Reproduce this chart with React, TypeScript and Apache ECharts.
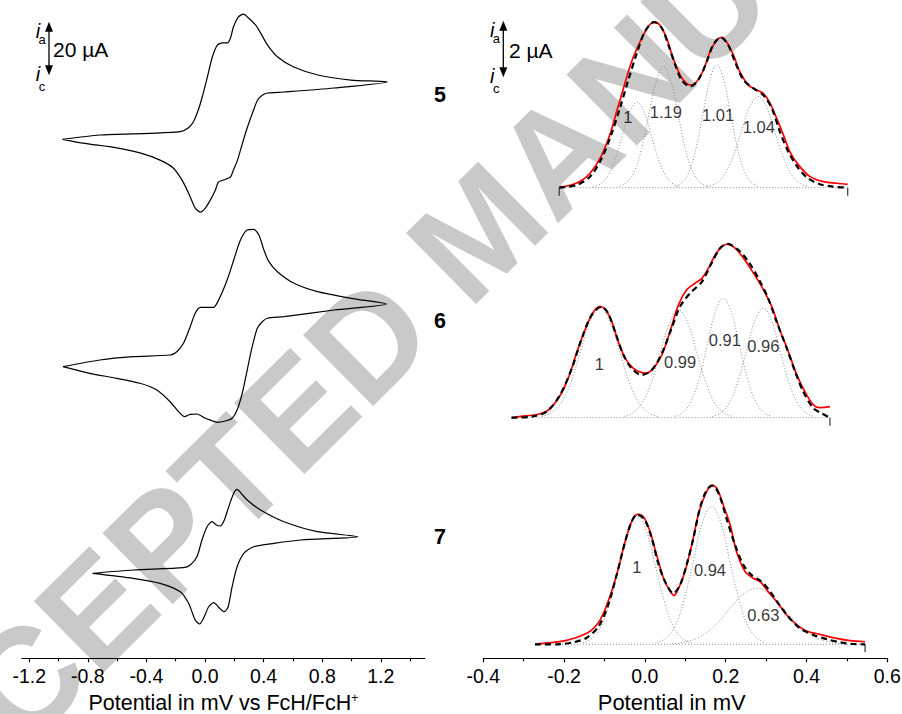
import React, { useEffect, useRef } from "react";
import * as echarts from "echarts";

const FONT = '"Liberation Sans", Arial, Helvetica, sans-serif';

// ---------- Cyclic voltammograms: [potential (V), current (µA)] ----------
const cv5: number[][] = [
  [-0.974, -11.06], [-0.718, -9.43], [-0.375, -8.79], [-0.169, -8.19], [-0.115, -6.79], [-0.08, -4.53],
  [-0.046, 0], [-0.019, 4.91], [0.016, 12.45], [0.05, 20.0], [0.084, 24.5], [0.119, 25.3], [0.153, 25.3],
  [0.174, 27.2], [0.194, 31.3], [0.228, 35.1], [0.263, 36.2], [0.297, 34.7], [0.345, 32.1], [0.379, 29.1],
  [0.427, 24.5], [0.496, 20.0], [0.606, 16.2], [0.77, 13.2], [0.996, 11.3], [1.243, 10.6],
  [0.88, 8.3], [0.537, 6.79], [0.427, 6.42], [0.393, 5.66], [0.359, 3.77], [0.324, -1.13], [0.29, -6.42],
  [0.256, -12.45], [0.222, -18.9], [0.194, -22.6], [0.174, -25.3], [0.126, -26.4], [0.091, -27.2],
  [0.071, -30.2], [0.036, -34.0], [0.002, -37.0], [-0.032, -38.5], [-0.067, -37.0], [-0.101, -32.8],
  [-0.149, -27.2], [-0.217, -21.9], [-0.307, -18.9], [-0.444, -16.2], [-0.602, -14.3], [-0.835, -12.5],
  [-0.974, -11.06],
];
const cv6: number[][] = [
  [-0.97, -15.36], [-0.718, -12.83], [-0.49, -11.59], [-0.238, -10.94], [-0.192, -9.7], [-0.147, -6.53],
  [-0.101, -0.26], [-0.067, 4.79], [-0.032, 7.06], [0.025, 7.06], [0.059, 7.06], [0.093, 9.81],
  [0.151, 17.36], [0.196, 24.91], [0.242, 32.46], [0.288, 36.23], [0.333, 36.49], [0.368, 34.34],
  [0.402, 28.68], [0.436, 24.27], [0.494, 20.49], [0.608, 16.11], [0.768, 12.95], [0.997, 10.45], [1.237, 8.3],
  [0.882, 6.04], [0.539, 3.51], [0.425, 2.91], [0.391, 1.62], [0.357, -0.87], [0.322, -7.81], [0.288, -16.61],
  [0.254, -25.4], [0.219, -31.7], [0.185, -34.83], [0.139, -35.85], [0.082, -36.34], [0.048, -35.74],
  [0.002, -34.83], [-0.055, -33.21], [-0.101, -33.32], [-0.14, -34.23], [-0.181, -32.34], [-0.238, -28.57],
  [-0.329, -24.15], [-0.444, -21.62], [-0.604, -19.74], [-0.787, -17.85], [-0.97, -15.36],
];
const cv7: number[][] = [
  [-0.768, -6.53], [-0.49, -5.28], [-0.147, -4.42], [-0.101, -3.4], [-0.055, -0.26], [-0.021, 6.04],
  [0.014, 11.06], [0.048, 12.94], [0.078, 11.7], [0.105, 11.32], [0.132, 13.59], [0.162, 18.61],
  [0.196, 23.66], [0.219, 25.17], [0.247, 23.66], [0.288, 21.13], [0.379, 17.36], [0.539, 12.94],
  [0.768, 9.17], [1.043, 7.28],
  [0.654, 6.04], [0.471, 4.79], [0.333, 3.51], [0.265, 1.02], [0.219, -4.04], [0.185, -11.59],
  [0.158, -19.13], [0.132, -21.02], [0.1, -19.74], [0.059, -17.62], [0.025, -19.13], [-0.01, -23.51],
  [-0.037, -25.66], [-0.067, -24.15], [-0.112, -17.85], [-0.169, -13.47], [-0.307, -10.3], [-0.49, -8.42],
  [-0.768, -6.53],
];

const leftMajorTicks = [-1.2, -0.8, -0.4, 0, 0.4, 0.8, 1.2];
const leftMinorTicks = [-1.0, -0.6, -0.2, 0.2, 0.6, 1.0, 1.4];
const compoundNames = ["5", "6", "7"];

// ---------- Deconvoluted DPV: [potential (V), current (µA)] ----------
const dpv5Exp: number[][] = [
  [-0.212, 0.014], [-0.177, 0.119], [-0.144, 0.386], [-0.111, 1.03], [-0.087, 1.85], [-0.07, 2.67],
  [-0.053, 3.49], [-0.033, 4.42], [-0.012, 5.12], [0.008, 5.65], [0.023, 5.81], [0.037, 5.71],
  [0.054, 5.24], [0.07, 4.54], [0.087, 3.96], [0.103, 3.66], [0.116, 3.6], [0.128, 3.72], [0.145, 4.13],
  [0.161, 4.77], [0.178, 5.18], [0.19, 5.28], [0.202, 5.12], [0.219, 4.66], [0.235, 4.07], [0.256, 3.6],
  [0.277, 3.43], [0.293, 3.31], [0.31, 2.96], [0.326, 2.44], [0.343, 1.85], [0.359, 1.26], [0.38, 0.8],
  [0.409, 0.386], [0.442, 0.21], [0.475, 0.154], [0.502, 0.119],
];
const dpv5Fit: number[][] = [
  [-0.212, 0], [-0.169, 0.095], [-0.136, 0.386], [-0.107, 1.03], [-0.082, 1.91], [-0.062, 2.79],
  [-0.041, 3.78], [-0.02, 4.72], [0.0, 5.48], [0.023, 5.81], [0.042, 5.6], [0.058, 5.01], [0.075, 4.31],
  [0.091, 3.78], [0.112, 3.55], [0.132, 3.78], [0.153, 4.42], [0.169, 5.01], [0.188, 5.28], [0.206, 5.01],
  [0.223, 4.42], [0.244, 3.78], [0.268, 3.49], [0.293, 3.25], [0.314, 2.79], [0.334, 1.97], [0.355, 1.26],
  [0.38, 0.68], [0.404, 0.33], [0.433, 0.12], [0.466, 0.035], [0.502, 0],
];
const dpv5Peaks: number[][][] = [
  [[-0.128, 0.03], [-0.11, 0.13], [-0.092, 0.41], [-0.074, 0.98], [-0.056, 1.82], [-0.038, 2.65], [-0.02, 3.0],
   [-0.002, 2.65], [0.016, 1.82], [0.034, 0.98], [0.052, 0.41], [0.07, 0.13], [0.088, 0.03]],
  [[-0.062, 0.05], [-0.044, 0.19], [-0.026, 0.57], [-0.008, 1.38], [0.01, 2.58], [0.028, 3.75], [0.046, 4.25],
   [0.064, 3.75], [0.082, 2.58], [0.1, 1.38], [0.118, 0.57], [0.136, 0.19], [0.154, 0.05]],
  [[0.076, 0.05], [0.093, 0.19], [0.11, 0.58], [0.127, 1.4], [0.144, 2.61], [0.161, 3.79], [0.178, 4.3],
   [0.195, 3.79], [0.212, 2.61], [0.229, 1.4], [0.246, 0.58], [0.263, 0.19], [0.28, 0.05]],
  [[0.154, 0.04], [0.175, 0.14], [0.196, 0.43], [0.217, 1.04], [0.238, 1.94], [0.259, 2.82], [0.28, 3.2],
   [0.301, 2.82], [0.322, 1.94], [0.343, 1.04], [0.364, 0.43], [0.385, 0.14], [0.406, 0.04]],
];
const dpv5Ratios: (number | string)[][] = [
  [-0.042, 2.48, "1"], [0.052, 2.66, "1.19"], [0.181, 2.55, "1.01"], [0.282, 2.13, "1.04"],
];
const dpv5EndMarks = [-0.212, 0.502];

const dpv6Exp: number[][] = [
  [-0.33, 0], [-0.297, 0.06], [-0.264, 0.119], [-0.239, 0.27], [-0.214, 0.68], [-0.19, 1.38], [-0.165, 2.44],
  [-0.14, 3.37], [-0.124, 3.78], [-0.111, 3.9], [-0.099, 3.82], [-0.082, 3.37], [-0.066, 2.67], [-0.049, 2.09],
  [-0.029, 1.74], [-0.012, 1.6], [0.004, 1.56], [0.021, 1.74], [0.042, 2.2], [0.062, 3.02], [0.083, 3.96],
  [0.103, 4.48], [0.124, 4.72], [0.141, 4.89], [0.157, 5.24], [0.174, 5.71], [0.19, 6.0], [0.205, 6.09],
  [0.223, 5.95], [0.244, 5.6], [0.264, 5.18], [0.289, 4.6], [0.314, 3.9], [0.334, 3.08], [0.355, 2.32],
  [0.376, 1.5], [0.396, 0.91], [0.417, 0.45], [0.433, 0.35], [0.458, 0.39],
];
const dpv6Fit: number[][] = [
  [-0.33, 0], [-0.28, 0.035], [-0.243, 0.21], [-0.21, 0.8], [-0.181, 1.73], [-0.156, 2.79], [-0.132, 3.6],
  [-0.107, 3.9], [-0.091, 3.66], [-0.074, 3.02], [-0.053, 2.2], [-0.033, 1.73], [-0.008, 1.5], [0.017, 1.67],
  [0.042, 2.26], [0.066, 3.14], [0.087, 3.9], [0.112, 4.37], [0.141, 4.77], [0.165, 5.42], [0.186, 5.95],
  [0.205, 6.1], [0.231, 5.89], [0.256, 5.48], [0.281, 4.89], [0.305, 4.19], [0.326, 3.37], [0.351, 2.44],
  [0.372, 1.61], [0.392, 0.91], [0.417, 0.33], [0.438, 0.15], [0.458, 0],
];
const dpv6Peaks: number[][][] = [
  [[-0.255, 0.04], [-0.231, 0.17], [-0.207, 0.52], [-0.183, 1.25], [-0.159, 2.34], [-0.135, 3.4], [-0.111, 3.85],
   [-0.087, 3.4], [-0.063, 2.34], [-0.039, 1.25], [-0.015, 0.52], [0.009, 0.17], [0.033, 0.04]],
  [[-0.052, 0.04], [-0.03, 0.17], [-0.007, 0.51], [0.016, 1.23], [0.038, 2.29], [0.061, 3.33], [0.083, 3.78],
   [0.106, 3.33], [0.128, 2.29], [0.151, 1.23], [0.173, 0.51], [0.196, 0.17], [0.218, 0.04]],
  [[0.074, 0.05], [0.094, 0.18], [0.114, 0.57], [0.134, 1.36], [0.154, 2.54], [0.174, 3.7], [0.194, 4.19],
   [0.214, 3.7], [0.234, 2.54], [0.254, 1.36], [0.274, 0.57], [0.294, 0.18], [0.314, 0.05]],
  [[0.167, 0.04], [0.188, 0.17], [0.209, 0.52], [0.23, 1.25], [0.251, 2.33], [0.272, 3.39], [0.293, 3.84],
   [0.314, 3.39], [0.335, 2.33], [0.356, 1.25], [0.377, 0.52], [0.398, 0.17], [0.419, 0.04]],
];
const dpv6Ratios: (number | string)[][] = [
  [-0.113, 1.87, "1"], [0.087, 1.97, "0.99"], [0.198, 2.73, "0.91"], [0.293, 2.52, "0.96"],
];
const dpv6EndMarks = [0.458];

const dpv7Exp: number[][] = [
  [-0.272, 0], [-0.235, 0.056], [-0.194, 0.14], [-0.161, 0.28], [-0.132, 0.5], [-0.111, 0.85], [-0.091, 1.5],
  [-0.07, 2.43], [-0.049, 3.6], [-0.033, 4.3], [-0.019, 4.56], [-0.004, 4.48], [0.013, 3.95], [0.029, 3.13],
  [0.046, 2.32], [0.058, 1.97], [0.072, 1.71], [0.085, 2.02], [0.099, 2.55], [0.116, 3.49], [0.132, 4.54],
  [0.149, 5.24], [0.165, 5.59], [0.178, 5.48], [0.194, 4.89], [0.211, 4.19], [0.227, 3.25], [0.248, 2.55],
  [0.268, 2.32], [0.285, 2.2], [0.305, 1.85], [0.326, 1.5], [0.351, 1.03], [0.376, 0.68], [0.4, 0.47],
  [0.433, 0.35], [0.475, 0.21], [0.508, 0.13], [0.545, 0.09],
];
const dpv7Fit: number[][] = [
  [-0.272, 0], [-0.218, 0], [-0.177, 0.07], [-0.144, 0.23], [-0.115, 0.62], [-0.091, 1.38], [-0.07, 2.43],
  [-0.049, 3.6], [-0.033, 4.3], [-0.019, 4.56], [0.0, 4.36], [0.017, 3.72], [0.033, 2.84], [0.05, 2.2],
  [0.07, 1.79], [0.087, 2.08], [0.103, 2.78], [0.12, 3.72], [0.136, 4.77], [0.153, 5.42], [0.168, 5.57],
  [0.184, 5.24], [0.202, 4.42], [0.223, 3.49], [0.244, 2.78], [0.264, 2.43], [0.289, 2.2], [0.31, 1.85],
  [0.33, 1.44], [0.355, 0.97], [0.384, 0.56], [0.417, 0.33], [0.45, 0.18], [0.483, 0.07], [0.516, 0.01],
  [0.545, 0],
];
const dpv7Peaks: number[][][] = [
  [[-0.154, 0.05], [-0.132, 0.2], [-0.109, 0.61], [-0.087, 1.46], [-0.064, 2.73], [-0.042, 3.97], [-0.019, 4.5],
   [0.004, 3.97], [0.026, 2.73], [0.049, 1.46], [0.071, 0.61], [0.094, 0.2], [0.116, 0.05]],
  [[0.03, 0.05], [0.052, 0.21], [0.075, 0.65], [0.097, 1.57], [0.12, 2.93], [0.142, 4.26], [0.165, 4.83],
   [0.188, 4.26], [0.21, 2.93], [0.233, 1.57], [0.255, 0.65], [0.278, 0.21], [0.3, 0.05]],
  [[0.067, 0.02], [0.102, 0.09], [0.137, 0.27], [0.172, 0.64], [0.207, 1.2], [0.242, 1.74], [0.277, 1.97],
   [0.312, 1.74], [0.347, 1.2], [0.382, 0.64], [0.417, 0.27], [0.452, 0.09], [0.487, 0.02]],
];
const dpv7Ratios: (number | string)[][] = [
  [-0.02, 2.72, "1"], [0.161, 2.61, "0.94"], [0.293, 1.03, "0.63"],
];
const dpv7EndMarks = [0.545];

const rightTicks = { min: -0.4, max: 0.6, interval: 0.2 };

// ---------- layout (pixels) ----------
const LEFT_X = { left: 21.9, width: 402.85 };
const RIGHT_X = { left: 483.3, width: 404 };
const cvGrids = [
  { top: 4, height: 212, min: -40, max: 40 },
  { top: 220, height: 212, min: -40, max: 40 },
  { top: 450, height: 208.3, min: -38.6, max: 40 },
];
const dpvGrids = [
  { top: 2.5, height: 199.4, min: -0.5, max: 6.5 },
  { top: 232.5, height: 199.4, min: -0.5, max: 6.5 },
  { top: 459.1, height: 199.2, min: -0.491, max: 6.5 },
];

function buildOption() {
  const grid: any[] = [];
  const xAxis: any[] = [];
  const yAxis: any[] = [];
  const series: any[] = [];

  const hiddenX = (gi: number, min: number, max: number) => ({
    gridIndex: gi, type: "value", min, max, show: false,
  });

  cvGrids.forEach((g) => {
    grid.push({ left: LEFT_X.left, width: LEFT_X.width, top: g.top, height: g.height, outerBoundsMode: "none" });
  });
  dpvGrids.forEach((g) => {
    grid.push({ left: RIGHT_X.left, width: RIGHT_X.width, top: g.top, height: g.height, outerBoundsMode: "none" });
  });

  const axisColor = "#000";
  xAxis.push(hiddenX(0, -1.25, 1.5));
  xAxis.push(hiddenX(1, -1.25, 1.5));
  xAxis.push({
    gridIndex: 2, type: "value", min: -1.25, max: 1.5, position: "bottom",
    axisLine: { show: true, onZero: false, lineStyle: { color: axisColor, width: 1.2 } },
    axisTick: { show: true, length: 4, customValues: leftMajorTicks, lineStyle: { color: axisColor, width: 1.2 } },
    axisLabel: {
      customValues: leftMajorTicks, formatter: (v: number) => v.toFixed(1), fontSize: 19.5,
      color: "#000", fontFamily: FONT, margin: 8,
    },
    splitLine: { show: false },
    name: "Potential in mV vs FcH/FcH{sup|+}",
    nameLocation: "middle", nameGap: 34,
    nameTextStyle: {
      fontSize: 21.5, color: "#000", fontFamily: FONT,
      rich: { sup: { fontSize: 12, color: "#000", fontFamily: FONT, verticalAlign: "top", lineHeight: 12 } },
    },
  });
  xAxis.push({
    gridIndex: 2, type: "value", min: -1.25, max: 1.5, position: "bottom",
    axisLine: { show: false, onZero: false },
    axisTick: { show: true, length: 3, customValues: leftMinorTicks, lineStyle: { color: axisColor, width: 1.2 } },
    axisLabel: { show: false },
    splitLine: { show: false },
  });
  xAxis.push(hiddenX(3, rightTicks.min, rightTicks.max));
  xAxis.push(hiddenX(4, rightTicks.min, rightTicks.max));
  xAxis.push({
    gridIndex: 5, type: "value", min: rightTicks.min, max: rightTicks.max, interval: rightTicks.interval,
    position: "bottom",
    axisLine: { show: true, onZero: false, lineStyle: { color: axisColor, width: 1.2 } },
    axisTick: { show: true, length: 4, lineStyle: { color: axisColor, width: 1.2 } },
    minorTick: { show: true, splitNumber: 2, length: 3, lineStyle: { color: axisColor, width: 1.2 } },
    axisLabel: { formatter: (v: number) => v.toFixed(1), fontSize: 19.5, color: "#000", fontFamily: FONT, margin: 8 },
    splitLine: { show: false },
    minorSplitLine: { show: false },
  });

  cvGrids.forEach((g, i) => yAxis.push({ gridIndex: i, type: "value", min: g.min, max: g.max, show: false }));
  dpvGrids.forEach((g, i) => yAxis.push({ gridIndex: 3 + i, type: "value", min: g.min, max: g.max, show: false }));

  [cv5, cv6, cv7].forEach((d, i) => {
    series.push({
      type: "line", xAxisIndex: i, yAxisIndex: i, data: d, smooth: 0.25, showSymbol: false, silent: true,
      lineStyle: { color: "#000", width: 1.2 }, z: 3,
    });
  });

  const panels = [
    { exp: dpv5Exp, fit: dpv5Fit, peaks: dpv5Peaks, ratios: dpv5Ratios, ends: dpv5EndMarks },
    { exp: dpv6Exp, fit: dpv6Fit, peaks: dpv6Peaks, ratios: dpv6Ratios, ends: dpv6EndMarks },
    { exp: dpv7Exp, fit: dpv7Fit, peaks: dpv7Peaks, ratios: dpv7Ratios, ends: dpv7EndMarks },
  ];
  const xIdx = [4, 5, 6];
  panels.forEach((p, i) => {
    const xa = xIdx[i];
    const ya = 3 + i;
    p.peaks.forEach((pk) => {
      series.push({
        type: "line", xAxisIndex: xa, yAxisIndex: ya, data: pk, smooth: 0.4, showSymbol: false, silent: true,
        lineStyle: { color: "#8a8a8a", width: 1, type: [1, 2] }, z: 2,
      });
    });
    series.push({
      type: "line", xAxisIndex: xa, yAxisIndex: ya, silent: true, showSymbol: false,
      data: [[p.exp[0][0], 0], [p.exp[p.exp.length - 1][0], 0]],
      lineStyle: { color: "#8a8a8a", width: 1, type: [1, 2] }, z: 2,
    });
    p.ends.forEach((ex) => {
      series.push({
        type: "line", xAxisIndex: xa, yAxisIndex: ya, silent: true, showSymbol: false,
        data: [[ex, 0], [ex, -0.28]],
        lineStyle: { color: "#333", width: 1.2 }, z: 2,
      });
    });
    series.push({
      type: "line", xAxisIndex: xa, yAxisIndex: ya, data: p.exp, smooth: 0.3, showSymbol: false, silent: true,
      lineStyle: { color: "#ff0000", width: 1.7 }, z: 3,
    });
    series.push({
      type: "line", xAxisIndex: xa, yAxisIndex: ya, data: p.fit, smooth: 0.3, showSymbol: false, silent: true,
      lineStyle: { color: "#000", width: 2.2, type: [6, 4] }, z: 4,
    });
    series.push({
      type: "scatter", xAxisIndex: xa, yAxisIndex: ya, symbolSize: 0, silent: true, z: 6,
      itemStyle: { color: "transparent" },
      data: p.ratios.map((r) => ({ value: [r[0], r[1]], name: String(r[2]) })),
      label: {
        show: true, position: "inside", formatter: "{b}", fontSize: 16.5, color: "#000", fontFamily: FONT,
        textBorderWidth: 0, textShadowBlur: 0,
      },
    });
  });

  const graphic: any[] = [];
  graphic.push({
    type: "text", x: 480, y: 230, rotation: 0.78, z: -10, silent: true,
    style: {
      text: "ACCEPTED MANUSCRIPT", font: `bold 145px ${FONT}`, fill: "#c9c9c9",
      align: "center", verticalAlign: "middle", textAlign: "center", textVerticalAlign: "middle",
    },
  });
  const labelY = [95.3, 320.8, 537];
  compoundNames.forEach((n, i) => {
    graphic.push({
      type: "text", x: 440, y: labelY[i], z: 10,
      style: {
        text: n, font: `bold 21.5px ${FONT}`, fill: "#000",
        align: "center", verticalAlign: "middle", textAlign: "center", textVerticalAlign: "middle",
      },
    });
  });
  graphic.push({
    type: "text", x: 671.7, y: 702.5, z: 10,
    style: {
      text: "Potential in mV", font: `22px ${FONT}`, fill: "#000",
      align: "center", verticalAlign: "middle", textAlign: "center", textVerticalAlign: "middle",
    },
  });
  const scaleBar = (cx: number, y1: number, y2: number, label: string, tx: number) => {
    const hw = 4;
    const hh = 10;
    graphic.push({ type: "line", z: 10, shape: { x1: cx, y1: y1 + hh - 1, x2: cx, y2: y2 - hh + 1 }, style: { stroke: "#000", lineWidth: 1.3 } });
    graphic.push({ type: "polygon", z: 10, shape: { points: [[cx, y1], [cx - hw, y1 + hh], [cx + hw, y1 + hh]] }, style: { fill: "#000" } });
    graphic.push({ type: "polygon", z: 10, shape: { points: [[cx, y2], [cx - hw, y2 - hh], [cx + hw, y2 - hh]] }, style: { fill: "#000" } });
    const t = (text: string, x: number, y: number, font: string) =>
      graphic.push({
        type: "text", x, y, z: 10,
        style: { text, font, fill: "#000", align: "center", verticalAlign: "middle", textAlign: "center", textVerticalAlign: "middle" },
      });
    t("i", cx - 11, y1 + 9, `italic 20px ${FONT}`);
    t("a", cx - 7, y1 + 18, `13px ${FONT}`);
    t("i", cx - 11, y2 - 1, `italic 20px ${FONT}`);
    t("c", cx - 7, y2 + 11, `13px ${FONT}`);
    graphic.push({
      type: "text", x: tx, y: (y1 + y2) / 2 + 1, z: 10,
      style: { text: label, font: `21px ${FONT}`, fill: "#000", align: "left", verticalAlign: "middle", textAlign: "left", textVerticalAlign: "middle" },
    });
  };
  scaleBar(49, 21.7, 75.3, "20 µA", 53);
  scaleBar(503.3, 20.7, 77.3, "2 µA", 509);

  return {
    animation: false,
    backgroundColor: "#fff",
    textStyle: { fontFamily: FONT },
    grid, xAxis, yAxis, series, graphic,
  };
}

export default function App() {
  const ref = useRef<HTMLDivElement>(null);
  useEffect(() => {
    if (!ref.current) return;
    const chart = echarts.init(ref.current, undefined, { renderer: "svg" });
    chart.setOption(buildOption() as any);
    return () => chart.dispose();
  }, []);
  return (
    <div
      ref={ref}
      style={{ position: "fixed", left: 0, top: 0, width: 902, height: 714, background: "#fff" }}
    />
  );
}
